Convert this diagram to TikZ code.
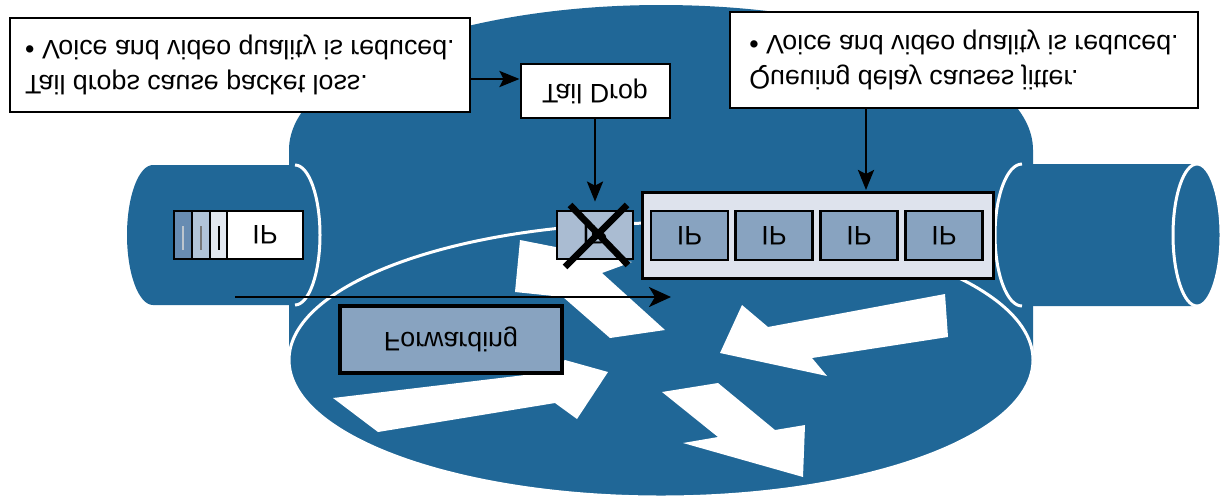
\documentclass[tikz,border=0pt]{standalone}
\usepackage{fontspec}
\usepackage{graphicx}
\setmainfont{Liberation Sans}
\usetikzlibrary{arrows.meta}

\definecolor{routerblue}{RGB}{32,103,151}
\definecolor{queuefill}{RGB}{222,227,237}
\definecolor{ipfill}{RGB}{136,163,192}
\definecolor{dropfill}{RGB}{170,188,210}
\definecolor{segA}{RGB}{104,140,178}
\definecolor{segB}{RGB}{178,196,216}
\definecolor{segC}{RGB}{226,232,240}

% text printed upside down
\newcommand{\mirrortext}[1]{\scalebox{1}[-1]{#1}}
\newcommand{\twolines}[2]{\mirrortext{\begin{tabular}{@{}l@{}}#1\\#2\end{tabular}}}

\tikzset{
  label font/.style={font=\fontsize{13.4pt}{17.5pt}\selectfont},
  note/.style={draw=black, line width=1pt, fill=white, label font, inner sep=0pt},
  qbox/.style={draw=black, line width=1.5pt, fill=queuefill, inner sep=0pt},
  ipbox/.style={draw=black, line width=1.4pt, fill=ipfill, label font, inner sep=0pt,
    minimum width=38.5pt, minimum height=24.5pt},
  outline/.style={draw=white, line width=1.5pt},
  flowarrow/.style={draw=black, line width=1.4pt, -{Stealth[length=10pt,width=8pt,inset=2pt]}},
  pathArrow/.style={draw=black, line width=1.1pt, -{Stealth[length=11pt,width=10pt,inset=3pt]}},
  cross/.style={draw=black, line width=3.3pt},
}

\begin{document}
\begin{tikzpicture}[x=0.5pt, y=-0.5pt]
\useasboundingbox (0,0) rectangle (1220,499);

% router body and its top face
\fill[routerblue] (289,360) -- (289,150)
  arc[start angle=180, end angle=360, x radius=372, y radius=145]
  -- (1033,360)
  arc[start angle=0, end angle=180, x radius=372, y radius=137] -- cycle;
\fill[routerblue] (661,360) ellipse[x radius=372, y radius=137];
\draw[outline] (661,360) ellipse[x radius=372, y radius=137];

% incoming link
\fill[routerblue] (153,165) -- (295,165)
  arc[start angle=270, end angle=450, x radius=25, y radius=70]
  -- (153,305)
  arc[start angle=90, end angle=270, x radius=26, y radius=70] -- cycle;
\draw[outline] (295,165) arc[start angle=270, end angle=450, x radius=25, y radius=70];

% outgoing link
\fill[routerblue] (1197,164) -- (1022,164)
  arc[start angle=270, end angle=90, x radius=27, y radius=71]
  -- (1197,306)
  arc[start angle=90, end angle=-90, x radius=24, y radius=71] -- cycle;
\draw[outline] (1022,164) arc[start angle=270, end angle=90, x radius=27, y radius=71];
\draw[outline] (1197,235) ellipse[x radius=24, y radius=71];

% switching arrows on the router face
\fill[white] (520,240) -- (632,262) -- (602,273) -- (665,330) -- (610,338) -- (563,297) -- (515,292) -- cycle;
\fill[white] (720,353) -- (742,305) -- (768,327) -- (945,294) -- (948,337) -- (812,358) -- (827,376) -- cycle;
\fill[white] (333,398) -- (550,372) -- (565,360) -- (608,372) -- (577,419) -- (555,403) -- (378,432) -- cycle;
\fill[white] (662,392) -- (718,383) -- (775,430) -- (805,425) -- (803,477) -- (683,443) -- (718,437) -- cycle;

% arriving packet
\draw[black, line width=1pt, fill=segA] (174,211) rectangle (192,259);
\draw[black, line width=1pt, fill=segB] (192,211) rectangle (210,259);
\draw[black, line width=1pt, fill=segC] (210,211) rectangle (227,259);
\draw[line width=1pt, draw={rgb,255:red,190;green,198;blue,206}] (183,226) -- (183,250);
\draw[line width=1pt, draw={rgb,255:red,120;green,120;blue,120}] (201,226) -- (201,250);
\draw[line width=1pt, draw=black] (219,226) -- (219,250);
\node[draw=black, line width=1pt, fill=white, label font, inner sep=0pt,
      minimum width=38pt, minimum height=24pt] (pkt) at (265,235) {\mirrortext{IP}};

% forwarding path
\coordinate (fwdstart) at (235,297);
\coordinate (fwdend) at (671,297);
\draw[pathArrow] (fwdstart) -- (fwdend);

\node[draw=black, line width=1.6pt, fill=ipfill, label font, inner sep=0pt,
      minimum width=111pt, minimum height=33.5pt] (fwd) at (451,339.5) {\mirrortext{Forwarding}};

% output queue
\node[qbox, minimum width=175.5pt, minimum height=43pt] (queue) at (817.5,235) {};
\node[ipbox] (ip1) at (689.5,235.5) {\mirrortext{IP}};
\node[ipbox] (ip2) at (774,235.5) {\mirrortext{IP}};
\node[ipbox] (ip3) at (859,235.5) {\mirrortext{IP}};
\node[ipbox] (ip4) at (944,235.5) {\mirrortext{IP}};

% dropped packet
\node[draw=black, line width=1.4pt, fill=dropfill, label font, inner sep=0pt,
      minimum width=38pt, minimum height=24pt] (drop) at (595,235) {\mirrortext{IP}};
\draw[cross] (565,267) -- (627,205);
\draw[cross] (570,205) -- (628,265);

% callouts
\node[note, minimum width=230pt, minimum height=47pt] (lnote) at (240,65)
  {\twolines{Tail drops cause packet loss.}{• Voice and video quality is reduced.}};
\node[note, minimum width=74.5pt, minimum height=27pt] (tail) at (595,91)
  {\mirrortext{Tail Drop}};
\node[note, minimum width=234pt, minimum height=48pt] (rnote) at (964,60)
  {\twolines{Queuing delay causes jitter.}{• Voice and video quality is reduced.}};

\coordinate (noterow) at (0,79);
\coordinate (queuetop) at (866,190);
\draw[flowarrow] (lnote.east |- noterow) -- (tail.west |- noterow);
\draw[flowarrow, shorten >=4pt] (tail.south) -- (drop.north);
\draw[flowarrow] (rnote.south -| queuetop) -- (queuetop);
\end{tikzpicture}
\end{document}
